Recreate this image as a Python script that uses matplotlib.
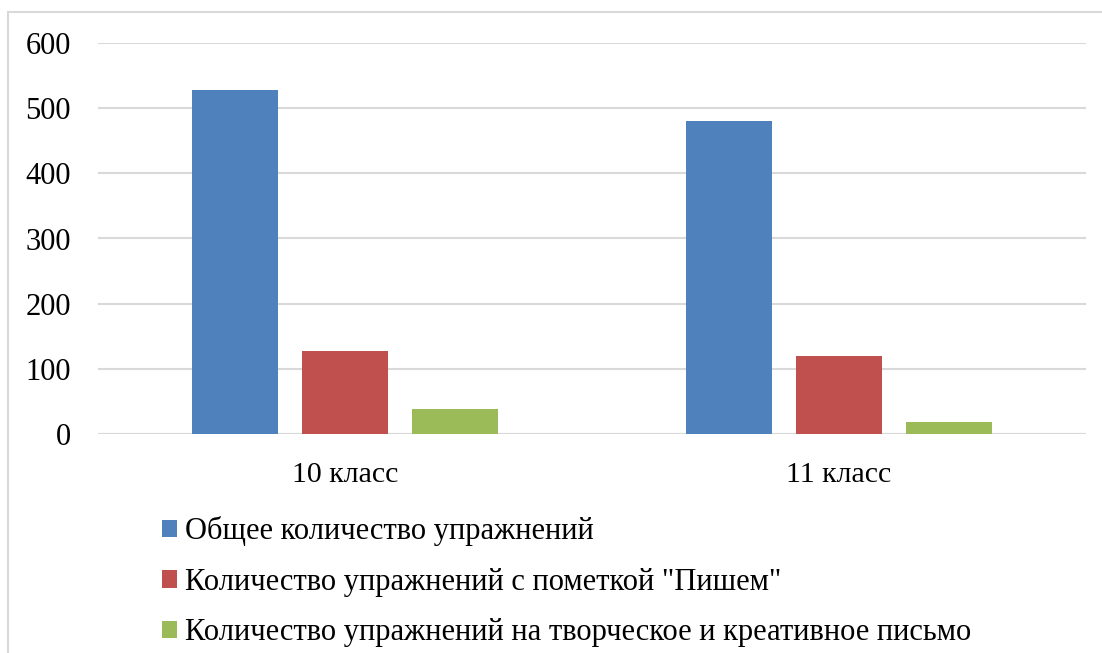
import numpy as np
import matplotlib.pyplot as plt
from matplotlib.patches import Rectangle

categories = ["10 класс", "11 класс"]
series_names = [
    "Общее количество упражнений",
    'Количество упражнений с пометкой "Пишем"',
    "Количество упражнений на творческое и креативное письмо",
]
total = [528, 481]
marked = [128, 120]
creative = [38, 18]
colors = ["#4f81bd", "#c0504d", "#9bbb59"]

plt.rcParams["font.family"] = ["Liberation Serif", "DejaVu Serif"]

fig = plt.figure(figsize=(11.02, 6.53), dpi=100)
fig.patches.append(Rectangle((8 / 1102, -0.05), 1.2, 1 - 12 / 653 + 0.05,
                             transform=fig.transFigure, fill=False,
                             edgecolor="#d9d9d9", linewidth=1.5))
ax = fig.add_axes([98 / 1102, 1 - 434 / 653, 988 / 1102, 391 / 653])

x = np.arange(len(categories))
width = 0.174
offset = 0.2227
bars = []
for i, (vals, name) in enumerate(zip([total, marked, creative], series_names)):
    b = ax.bar(x + (i - 1) * offset, vals, width, color=colors[i], label=name, zorder=3)
    bars.append(b)

ax.set_xlim(-0.5, 1.5)
ax.set_ylim(0, 600)
ax.set_yticks(range(0, 601, 100))
ax.set_xticks(x)
ax.set_xticklabels(categories)
ax.yaxis.grid(True, color="#d9d9d9", linewidth=1.5, zorder=0)
for s in ["top", "right", "left", "bottom"]:
    ax.spines[s].set_visible(False)
ax.axhline(0, color="#d9d9d9", linewidth=1.5, zorder=1)
ax.tick_params(axis="both", length=0)
ax.tick_params(axis="y", pad=19.5, labelsize=22)
ax.tick_params(axis="x", pad=20, labelsize=21.5)

fig.legend(handles=bars, labels=series_names, loc="upper left",
           bbox_to_anchor=(134 / 1102, 1 - 489 / 653), frameon=False,
           fontsize=22, handlelength=0.5, handleheight=0.5,
           handletextpad=0.26, labelspacing=0.7)

fig.savefig("out.png", dpi=100)
